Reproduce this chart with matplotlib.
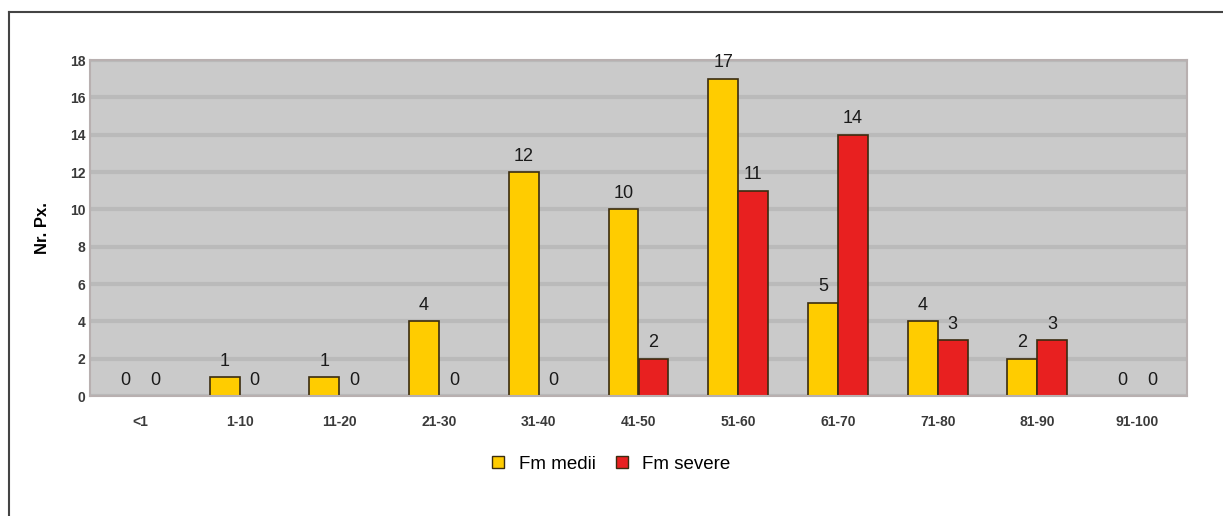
import numpy as np
import matplotlib.pyplot as plt
from matplotlib.lines import Line2D

categories = ['<1', '1-10', '11-20', '21-30', '31-40', '41-50',
              '51-60', '61-70', '71-80', '81-90', '91-100']
medii = [0, 1, 1, 4, 12, 10, 17, 5, 4, 2, 0]
severe = [0, 0, 0, 0, 0, 2, 11, 14, 3, 3, 0]

plt.rcParams['font.family'] = ['Liberation Sans', 'DejaVu Sans']

fig = plt.figure(figsize=(12.23, 5.16), dpi=100)
ax = fig.add_axes([90 / 1223, 1 - 396 / 516, 1097 / 1223, 336 / 516])

x = np.arange(len(categories))
w = 0.3
ax.set_facecolor('#cacaca')
ax.set_axisbelow(True)
ax.yaxis.grid(True, color='#bababa', linewidth=3)

b1 = ax.bar(x - w / 2, medii, w, color='#ffcc00', edgecolor='#3a2c10', linewidth=1.2)
b2 = ax.bar(x + w / 2, severe, w, color='#e82020', edgecolor='#3a2c10', linewidth=1.2)

for bars in (b1, b2):
    for r in bars:
        h = r.get_height()
        ax.text(r.get_x() + r.get_width() / 2, h + 0.4, str(int(h)),
                ha='center', va='bottom', fontsize=13, color='#1a1a1a')

ax.set_xlim(-0.5, len(categories) - 0.5)
ax.set_ylim(0, 18)
ax.set_yticks(range(0, 19, 2))
ax.set_xticks(x)
ax.set_xticklabels(categories)
ax.tick_params(axis='both', length=0, labelsize=10, labelcolor='#3a3a3a')
ax.tick_params(axis='x', pad=14)
for lbl in ax.get_xticklabels() + ax.get_yticklabels():
    lbl.set_fontweight('bold')
ax.set_ylabel('Nr. Px.', fontsize=12, fontweight='bold', labelpad=14)

for s in ax.spines.values():
    s.set_color('#b8b0b0')
    s.set_linewidth(1.5)

handles = [Line2D([], [], marker='s', linestyle='', markersize=9,
                  markerfacecolor='#ffcc00', markeredgecolor='#3a2c10'),
           Line2D([], [], marker='s', linestyle='', markersize=9,
                  markerfacecolor='#e82020', markeredgecolor='#3a2c10')]
fig.legend(handles, ['Fm medii', 'Fm severe'], loc='center',
           bbox_to_anchor=(605 / 1223, 1 - 464 / 516), ncol=2, frameon=False,
           fontsize=13.5, handletextpad=0.1, columnspacing=0.4)

# figure border (top and left)
fig.add_artist(Line2D([9 / 1223, 9 / 1223], [0, 1 - 12 / 516], color='#444444', linewidth=1.5))
fig.add_artist(Line2D([9 / 1223, 1], [1 - 12 / 516, 1 - 12 / 516], color='#444444', linewidth=1.5))

fig.savefig('out.png', dpi=100)
